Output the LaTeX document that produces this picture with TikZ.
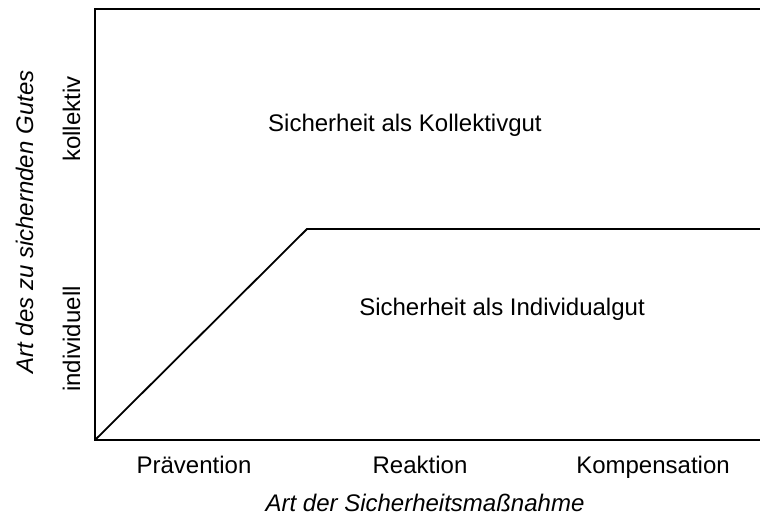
\documentclass[tikz,border=0pt]{standalone}
\usepackage{fontspec}
\setmainfont{Liberation Sans}
\begin{document}
\begin{tikzpicture}[x=1pt,y=-1pt,
  axis/.style={line width=2.2pt},
  curve/.style={line width=1.8pt, line join=miter},
  lbl/.style={font=\fontsize{24}{28}\selectfont, inner sep=0pt, anchor=base},
  axtitle/.style={lbl, font=\fontsize{24}{28}\selectfont\itshape}]
\useasboundingbox (0,0) rectangle (760,519);
% frame
\coordinate (tr) at (760,9);
\coordinate (tl) at (95,9);
\coordinate (bl) at (95,440);
\coordinate (br) at (760,440);
\coordinate (knee) at (307,229);
\coordinate (re) at (760,229);
\draw[axis, line cap=rect] (tr) -- (tl) -- (bl) -- (br);
% boundary between the two regions
\draw[curve] (bl) -- (knee) -- (re);
% region labels
\node[lbl, anchor=base west] (koll) at (268,131) {Sicherheit als Kollektivgut};
\node[lbl] (indiv) at (502,315) {Sicherheit als Individualgut};
% horizontal axis
\node[lbl] (prae) at (194,473) {Prävention};
\node[lbl] (reak) at (420,473) {Reaktion};
\node[lbl] (komp) at (653,473) {Kompensation};
\node[axtitle] (xt) at (425,511) {Art der Sicherheitsmaßnahme};
% vertical axis
\node[lbl, rotate=90] (kol) at (80,119) {kollektiv};
\node[lbl, rotate=90] (ind) at (80,339) {individuell};
\node[axtitle, rotate=90] (yt) at (33,222) {Art des zu sichernden Gutes};
\end{tikzpicture}
\end{document}
